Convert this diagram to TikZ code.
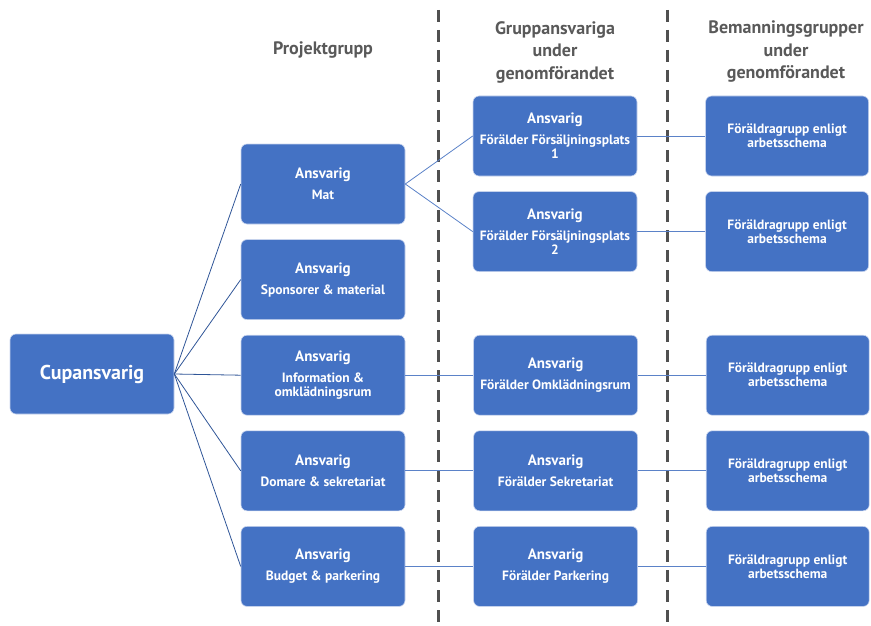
\documentclass[tikz,border=0pt]{standalone}
\usepackage{fontspec}
\setmainfont{PT Sans}
\usetikzlibrary{positioning}
\definecolor{boxblue}{HTML}{4472C4}
\definecolor{boxedge}{HTML}{C9D5EE}
\definecolor{fanblue}{HTML}{2F5597}
\definecolor{linkblue}{HTML}{5B82C8}
\definecolor{headgrey}{HTML}{595959}
\definecolor{divgrey}{HTML}{505050}
\newcommand{\ansv}[1]{{\fontsize{15}{15}\selectfont Ansvarig}\\[7pt]#1}

\begin{document}
\begin{tikzpicture}[x=1pt, y=-1pt, node distance=15pt and 68pt,
  box/.style={draw=boxedge, line width=0.6pt, fill=boxblue, rounded corners=6pt,
              minimum width=164pt, minimum height=80pt, align=center, text=white,
              font=\bfseries\fontsize{13.5}{14}\selectfont},
  head/.style={align=center, text=headgrey, font=\bfseries\fontsize{18}{22.5}\selectfont},
  fan/.style={draw=fanblue, line width=0.8pt},
  link/.style={draw=linkblue, line width=0.8pt},
  divider/.style={draw=divgrey, line width=3pt, dash pattern=on 12pt off 8pt}]

  \useasboundingbox (0,0) rectangle (871,626);

  % column headers
  \node[head] (hproj)  at (323,50) {Projektgrupp};
  \node[head] (hgrupp) at (555,52) {Gruppansvariga\\under\\genomförandet};
  \node[head] (hbem)   at (786,52) {Bemanningsgrupper\\under\\genomförandet};

  % dividers
  \coordinate (d1top) at (438,10);  \coordinate (d1bot) at (438,626);
  \coordinate (d2top) at (667,10);  \coordinate (d2bot) at (667,626);
  \draw[divider] (d1top) -- (d1bot);
  \draw[divider] (d2top) -- (d2bot);

  % cup leader
  \node[box, font=\bfseries\fontsize{20}{22}\selectfont] (cup) at (92,374) {Cupansvarig};

  % project group
  \node[box]                (mat)   at (323,184) {\ansv{Mat}};
  \node[box, below=of mat]  (spons) {\ansv{Sponsorer \& material}};
  \node[box, below=of spons](info)  {\ansv{Information \&\\omklädningsrum}};
  \node[box, below=of info] (dom)   {\ansv{Domare \& sekretariat}};
  \node[box, below=of dom]  (bud)   {\ansv{Budget \& parkering}};

  % group leaders
  \node[box]                (fp1)   at (555,136) {\ansv{Förälder Försäljningsplats\\1}};
  \node[box, below=of fp1]  (fp2)   {\ansv{Förälder Försäljningsplats\\2}};
  \node[box, right=of info] (omkl)  {\ansv{Förälder Omklädningsrum}};
  \node[box, right=of dom]  (sekr)  {\ansv{Förälder Sekretariat}};
  \node[box, right=of bud]  (park)  {\ansv{Förälder Parkering}};

  % staffing groups
  \foreach \g in {fp1,fp2,omkl,sekr,park}
    \node[box, minimum width=163pt, right=of \g] (bem-\g) {Föräldragrupp enligt\\arbetsschema};

  % connectors
  \foreach \p in {mat,spons,info,dom,bud}
    \draw[fan] (cup.east) -- (\p.west);
  \draw[link] (mat.east) -- (fp1.west);
  \draw[link] (mat.east) -- (fp2.west);
  \draw[link] (info.east) -- (omkl.west);
  \draw[link] (dom.east) -- (sekr.west);
  \draw[link] (bud.east) -- (park.west);
  \foreach \g in {fp1,fp2,omkl,sekr,park}
    \draw[link] (\g.east) -- (bem-\g.west);
\end{tikzpicture}
\end{document}
